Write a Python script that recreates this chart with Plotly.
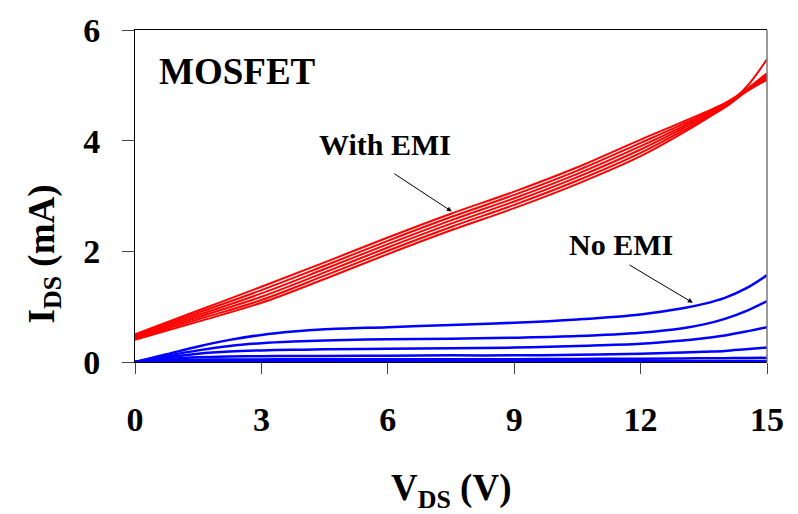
import plotly.graph_objects as go

# ---- data ----
v_red = [0, 1.5, 3, 4.5, 6, 7.5, 9, 10.5, 12, 13, 14, 14.5, 15]
red_curves = [
    [0.50, 0.93, 1.36, 1.80, 2.25, 2.68, 3.08, 3.52, 4.02, 4.34, 4.68, 4.92, 5.22],
    [0.48, 0.89, 1.30, 1.74, 2.19, 2.62, 3.02, 3.46, 3.96, 4.30, 4.66, 4.91, 5.19],
    [0.46, 0.85, 1.24, 1.68, 2.13, 2.56, 2.96, 3.40, 3.90, 4.26, 4.64, 4.90, 5.16],
    [0.44, 0.81, 1.18, 1.62, 2.07, 2.50, 2.90, 3.34, 3.84, 4.22, 4.62, 4.89, 5.13],
    [0.42, 0.77, 1.12, 1.56, 2.01, 2.44, 2.84, 3.28, 3.78, 4.18, 4.60, 4.88, 5.10],
    [0.40, 0.73, 1.07, 1.50, 1.95, 2.38, 2.78, 3.22, 3.72, 4.14, 4.62, 4.96, 5.47],
]

v_blue = [0, 0.75, 1.5, 2.25, 3, 3.75, 4.5, 6, 7.5, 9, 10.5, 12, 13, 13.5, 14, 14.5, 15]
blue_curves = [
    [0, 0.14, 0.28, 0.40, 0.49, 0.55, 0.59, 0.63, 0.67, 0.71, 0.77, 0.86, 0.97, 1.05, 1.16, 1.33, 1.57],
    [0, 0.11, 0.21, 0.29, 0.34, 0.37, 0.39, 0.41, 0.42, 0.44, 0.47, 0.53, 0.61, 0.68, 0.78, 0.92, 1.10],
    [0, 0.08, 0.15, 0.19, 0.21, 0.22, 0.23, 0.24, 0.25, 0.26, 0.29, 0.33, 0.39, 0.43, 0.48, 0.55, 0.63],
    [0, 0.05, 0.085, 0.10, 0.105, 0.11, 0.11, 0.115, 0.12, 0.12, 0.13, 0.15, 0.17, 0.185, 0.20, 0.23, 0.26],
    [0, 0.025, 0.04, 0.045, 0.045, 0.05, 0.05, 0.05, 0.05, 0.05, 0.055, 0.06, 0.065, 0.068, 0.07, 0.072, 0.075],
    [0, 0.01, 0.015, 0.015, 0.015, 0.015, 0.015, 0.015, 0.015, 0.015, 0.015, 0.015, 0.015, 0.015, 0.015, 0.018, 0.02],
]

x_ticks = [0, 3, 6, 9, 12, 15]
y_ticks = [0, 2, 4, 6]

FONT = "Liberation Serif"

fig = go.Figure()
for ys in red_curves:
    fig.add_trace(go.Scatter(x=v_red, y=ys, mode="lines", line=dict(color="#ff0000", width=2, shape="spline"),
                             showlegend=False, hoverinfo="skip"))
for ys in blue_curves:
    fig.add_trace(go.Scatter(x=v_blue, y=ys, mode="lines", line=dict(color="#0000ff", width=2.5, shape="spline"),
                             showlegend=False, hoverinfo="skip"))

fig.update_layout(
    width=798, height=514,
    margin=dict(l=135, r=31, t=20, b=152),
    paper_bgcolor="white", plot_bgcolor="white",
    font=dict(family=FONT, color="black"),
    xaxis=dict(range=[0, 15], tickvals=x_ticks, ticks="outside", ticklen=11, tickwidth=1, tickcolor="#444",
               showline=True, linecolor="black", linewidth=1, mirror=True, showgrid=False, zeroline=False,
               tickfont=dict(family=FONT, size=34, weight="bold", color="black"), ticklabelstandoff=16),
    yaxis=dict(range=[0, 6], tickvals=y_ticks, ticks="outside", ticklen=12, tickwidth=1, tickcolor="#444",
               showline=True, linecolor="black", linewidth=1, showgrid=False, zeroline=False,
               tickfont=dict(family=FONT, size=34, weight="bold", color="black"), ticklabelstandoff=15),
)

# right border (gray)
fig.add_shape(type="line", xref="paper", yref="paper", x0=1, x1=1, y0=0, y1=1,
              line=dict(color="#777", width=1.5))

# axis titles
fig.add_annotation(text="<b>V<sub>DS</sub> (V)</b>", xref="paper", yref="paper", x=0.5, y=-0.388,
                   showarrow=False, xanchor="center", yanchor="middle", font=dict(family=FONT, size=37))
fig.add_annotation(text="<b>I<sub>DS</sub> (mA)</b>", xref="paper", yref="paper", x=-0.144, y=0.327,
                   showarrow=False, textangle=-90, xanchor="center", yanchor="middle", font=dict(family=FONT, size=37))

# labels
fig.add_annotation(text="<b>MOSFET</b>", x=2.44, y=5.25, showarrow=False, font=dict(family=FONT, size=37))
fig.add_annotation(text="<b>With EMI</b>", x=5.93, y=3.93, showarrow=False, font=dict(family=FONT, size=30))
fig.add_annotation(text="<b>No EMI</b>", x=11.53, y=2.12, showarrow=False, font=dict(family=FONT, size=30))

# arrows
fig.add_annotation(text="", x=7.52, y=2.72, ax=6.12, ay=3.42, axref="x", ayref="y",
                   showarrow=True, arrowhead=2, arrowsize=1, arrowwidth=1, arrowcolor="black")
fig.add_annotation(text="", x=13.24, y=1.07, ax=11.70, ay=1.77, axref="x", ayref="y",
                   showarrow=True, arrowhead=2, arrowsize=1, arrowwidth=1, arrowcolor="black")

post = ("document.body.style.margin='0';"
        "var gd=document.getElementById('{plot_id}');"
        "gd.style.position='absolute';gd.style.left='0px';gd.style.top='0px';")

fig.write_html("out.html", post_script=post, config={"displayModeBar": False})
